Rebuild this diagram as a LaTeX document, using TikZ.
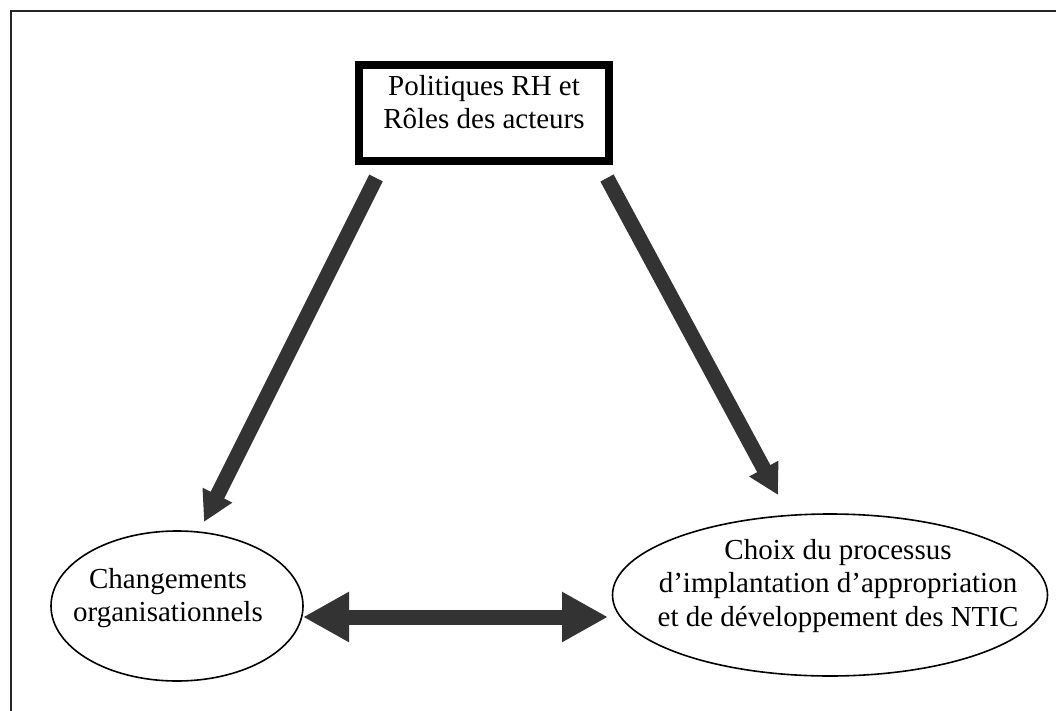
\documentclass[tikz,border=0pt]{standalone}
\usepackage{fontspec}
\setmainfont{Liberation Serif}
\usetikzlibrary{arrows.meta,shapes.geometric}
\definecolor{arrowgray}{HTML}{333333}
\begin{document}
\begin{tikzpicture}[x=1pt,y=-1pt,
  txt/.style={align=center,inner sep=0pt,font=\fontsize{29}{33.5}\selectfont},
  oval/.style={draw=black,line width=1.6pt,ellipse,inner sep=0pt},
  fat/.style={draw=arrowgray,line width=15pt},
  headA/.style={-{Triangle[length=30pt,width=31pt]}},
]
\useasboundingbox (0,0) rectangle (1056,711);
\fill[white] (0,0) rectangle (1056,711);
% outer frame (right and bottom edges off the page)
\draw[line width=1.8pt,black!85] (11,760) -- (11,11) -- (1100,11);

% top box
\node[draw=black,line width=8pt,minimum width=250pt,minimum height=96pt,inner sep=0pt] (box) at (484,113) {};
\node[txt] (boxt) at (484,102.3) {Politiques RH et\\Rôles des acteurs};

% left ellipse
\node[oval,minimum width=252pt,minimum height=150pt] (left) at (177,606) {};
\node[txt] (leftt) at (168,598) {Changements\\organisationnels};

% right ellipse
\node[oval,minimum width=435pt,minimum height=162pt] (right) at (830,595) {};
\node[txt] (rightt) at (838,586) {Choix du processus\\d’implantation d’appropriation\\et de développement des NTIC};

% arrow end points
\coordinate (a1s) at (376,178);
\coordinate (a1e) at (204,522);
\coordinate (a2s) at (607,178);
\coordinate (a2e) at (778,495);
\coordinate (a3s) at (303,617);
\coordinate (a3e) at (608,617);

\draw[fat,headA] (a1s) -- (a1e);
\draw[fat,headA] (a2s) -- (a2e);
\draw[fat,{Triangle[length=46pt,width=47pt]}-{Triangle[length=46pt,width=47pt]}] (a3s) -- (a3e);
\end{tikzpicture}
\end{document}
